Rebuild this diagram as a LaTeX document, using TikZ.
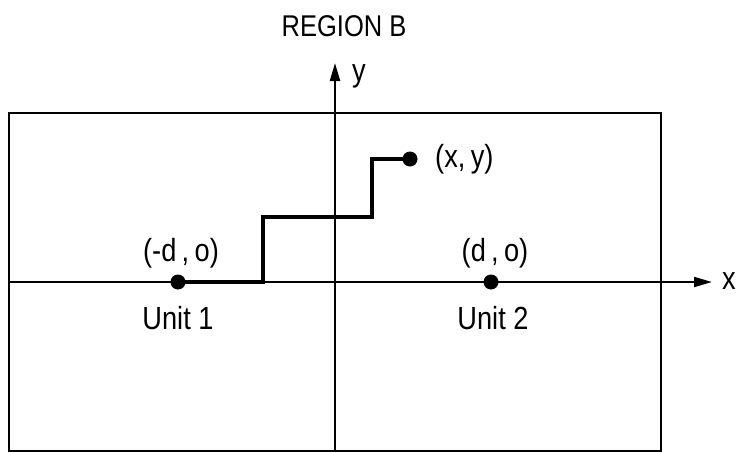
\documentclass[tikz,border=0pt]{standalone}
\usepackage{fontspec}
\setmainfont[FakeStretch=0.85]{Liberation Sans}
\usetikzlibrary{arrows.meta}
\begin{document}
\begin{tikzpicture}[x=1pt,y=-1pt,
  lbl/.style={font=\fontsize{32}{32}\selectfont, inner sep=0pt},
  ttl/.style={font=\fontsize{30}{30}\selectfont, inner sep=0pt},
  dotnode/.style={circle, fill=black, inner sep=0pt, minimum size=15pt},
  axis/.style={line width=2.2pt, -{Triangle[length=18pt,width=10pt]}},
  frame/.style={line width=2.8pt},
  route/.style={line width=4.2pt}]
\useasboundingbox (0,0) rectangle (740,453);
% frame
\draw[frame] (9,113) rectangle (661,451);
% axes
\coordinate (xs) at (9,282);
\coordinate (xe) at (712,282);
\coordinate (ys) at (335,451);
\coordinate (ye) at (335,63);
\draw[axis] (xs) -- (xe);
\draw[axis] (ys) -- (ye);
\node[lbl, anchor=west] (xl) at (722,281) {x};
\node[lbl, anchor=west] (yl) at (352,76) {y};
\node[ttl] (title) at (344,26) {REGION B};
% units
\node[dotnode] (u1) at (178,282) {};
\node[dotnode] (u2) at (491,282) {};
\node[dotnode] (p) at (410,159) {};
\node[lbl] (u1c) at (181,253) {(-d\,,\,o)};
\node[lbl] (u2c) at (495,253) {(d\,,\,o)};
\node[lbl, anchor=west] (pc) at (435,159) {(x,\,y)};
\node[lbl] (u1n) at (178,318) {Unit 1};
\node[lbl] (u2n) at (493,318) {Unit 2};
% staircase route
\coordinate (s1) at (263,282);
\coordinate (s2) at (263,217);
\coordinate (s3) at (372,217);
\coordinate (s4) at (372,159);
\draw[route, line join=miter] (u1.center) -- (s1) -- (s2) -- (s3) -- (s4) -- (p.center);
\end{tikzpicture}
\end{document}
